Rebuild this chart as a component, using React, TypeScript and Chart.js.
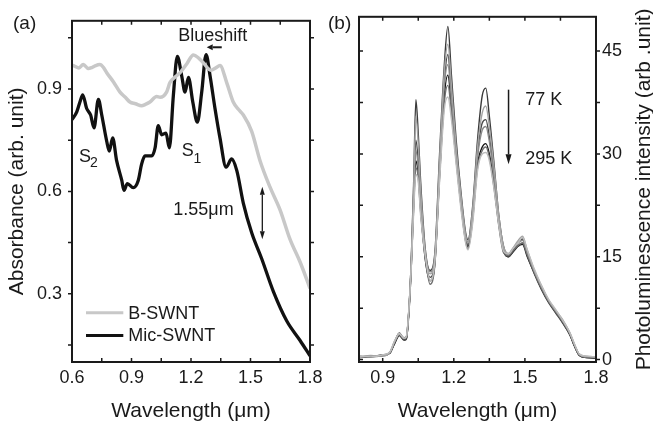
import React, { useEffect, useRef } from "react";
import { Chart, registerables } from "chart.js";
Chart.register(...registerables);

const FONT = "'Liberation Sans', Arial, Helvetica, sans-serif";
const INK = "#1a1a1a";

// ---------- Panel (a): absorbance ----------
const A_X_TICKS = [0.6, 0.9, 1.2, 1.5, 1.8];
const A_X_MINOR = [0.75, 1.05, 1.35, 1.65];
const A_Y_TICKS = [0.3, 0.6, 0.9];
const A_Y_MINOR = [0.15, 0.45, 0.75, 1.05];

const B_SWNT_WL = [0.60, 0.61, 0.635, 0.657, 0.682, 0.70, 0.716, 0.741, 0.76, 0.775, 0.81, 0.842, 0.87, 0.892, 0.92, 0.951, 0.97, 0.993, 1.027, 1.044, 1.077, 1.094, 1.12, 1.145, 1.18, 1.212, 1.24, 1.262, 1.30, 1.325, 1.346, 1.38, 1.413, 1.44, 1.464, 1.506, 1.548, 1.598, 1.649, 1.699, 1.75, 1.80];
const B_SWNT_ABS = [0.97, 0.968, 0.962, 0.972, 0.96, 0.963, 0.968, 0.972, 0.962, 0.948, 0.92, 0.891, 0.875, 0.862, 0.857, 0.851, 0.855, 0.862, 0.878, 0.876, 0.891, 0.919, 0.935, 0.948, 0.975, 1.0, 0.99, 0.977, 0.955, 0.962, 0.969, 0.919, 0.862, 0.84, 0.824, 0.776, 0.69, 0.613, 0.546, 0.46, 0.393, 0.316];

const MIC_SWNT_WL = [0.60, 0.624, 0.64, 0.654, 0.674, 0.694, 0.711, 0.733, 0.75, 0.775, 0.788, 0.805, 0.825, 0.851, 0.862, 0.879, 0.909, 0.934, 0.951, 0.968, 1.002, 1.019, 1.035, 1.052, 1.074, 1.091, 1.111, 1.131, 1.153, 1.17, 1.187, 1.209, 1.232, 1.254, 1.276, 1.296, 1.321, 1.346, 1.377, 1.405, 1.431, 1.464, 1.506, 1.557, 1.615, 1.683, 1.75, 1.80];
const MIC_SWNT_ABS = [0.81, 0.833, 0.862, 0.883, 0.843, 0.824, 0.786, 0.87, 0.824, 0.747, 0.718, 0.757, 0.69, 0.632, 0.603, 0.623, 0.611, 0.632, 0.68, 0.704, 0.704, 0.728, 0.793, 0.766, 0.771, 0.728, 0.881, 0.996, 0.939, 0.891, 0.934, 0.862, 0.803, 0.891, 1.001, 0.939, 0.843, 0.757, 0.671, 0.695, 0.661, 0.565, 0.479, 0.402, 0.307, 0.22, 0.163, 0.118];

// ---------- Panel (b): photoluminescence, 77 K ... 295 K ----------
const B_X_TICKS = [0.9, 1.2, 1.5, 1.8];
const B_X_MINOR = [1.05, 1.35, 1.65];
const B_Y_TICKS = [0, 15, 30, 45];
const B_Y_MINOR = [7.5, 22.5, 37.5];

const PL_WL = [0.80, 0.85, 0.90, 0.93, 0.95, 0.97, 0.99, 1.00, 1.01, 1.02, 1.03, 1.04, 1.05, 1.06, 1.08, 1.10, 1.12, 1.14, 1.16, 1.175, 1.19, 1.21, 1.23, 1.25, 1.26, 1.28, 1.30, 1.32, 1.335, 1.35, 1.37, 1.39, 1.41, 1.43, 1.45, 1.47, 1.49, 1.51, 1.54, 1.57, 1.60, 1.63, 1.66, 1.69, 1.71, 1.73, 1.76, 1.80];
const PL_1 = [0.4, 0.5, 0.6, 1.0, 2.5, 3.9, 3.0, 3.2, 7, 14, 25, 37.9, 33, 26, 16, 13, 15.5, 30, 43, 48.6, 41.5, 32, 24.5, 18.5, 17.5, 22.5, 32, 38.5, 39.6, 35.5, 28.5, 21, 16.5, 15.3, 16, 17, 17.6, 15.5, 12.8, 10.5, 8.5, 7, 5.5, 3.7, 2, 0.7, 0.4, 0.3];
const PL_2 = [0.3, 0.6, 0.5, 1.1, 2.7, 3.7, 3.1, 3.3, 7, 14, 24.5, 35.5, 31.5, 25, 15.5, 12.5, 15, 29, 42, 46, 40, 31, 24, 18, 17, 22, 31, 36, 37, 34, 28, 21, 16.5, 15.5, 16.3, 17.3, 18, 16, 13, 10.8, 8.7, 7.2, 5.8, 3.9, 2.2, 0.8, 0.5, 0.4];
const PL_3 = [0.5, 0.4, 0.7, 0.9, 2.4, 3.6, 2.8, 3.0, 6.8, 13.5, 23.5, 32, 29, 23.5, 15, 12, 14.5, 28, 40.5, 44.5, 38.5, 30.5, 23.5, 17.8, 16.8, 21.5, 30, 34.5, 35, 32.5, 27, 20.5, 16, 15, 15.8, 16.6, 17, 15.2, 12.5, 10.2, 8.3, 6.8, 5.3, 3.6, 1.9, 0.6, 0.3, 0.3];
const PL_4 = [0.4, 0.5, 0.6, 1.0, 2.6, 3.8, 3.2, 3.4, 7.2, 13.8, 23, 30.5, 28, 23, 15.5, 12.8, 15, 28.5, 40, 43, 38, 30, 23.5, 18.2, 17.2, 21.8, 29.5, 33.5, 34, 31.8, 26.5, 20.5, 16.2, 15.4, 16.2, 17, 17.4, 15.6, 12.9, 10.6, 8.6, 7.1, 5.6, 3.8, 2.1, 0.7, 0.4, 0.3];
const PL_5 = [0.3, 0.4, 0.6, 1.0, 2.3, 3.5, 2.9, 3.1, 6.5, 13, 22, 29, 27, 22, 14.5, 11.5, 14, 27, 38.5, 41.5, 37, 29.5, 23, 17.5, 16.5, 21, 28.5, 31, 31.5, 30, 25.5, 19.8, 15.8, 15, 15.7, 16.5, 16.8, 15, 12.6, 10.3, 8.4, 6.9, 5.4, 3.6, 1.9, 0.6, 0.3, 0.2];
const PL_6 = [0.4, 0.5, 0.6, 1.0, 2.5, 3.7, 3.0, 3.3, 6.9, 13.2, 21.5, 28, 26.5, 21.5, 14.8, 11, 13.8, 26.5, 37.5, 40, 36, 29, 22.5, 17.2, 16.2, 20.5, 28, 30.5, 31, 29.5, 25, 19.5, 15.6, 15.2, 15.9, 16.6, 17, 15.3, 12.7, 10.4, 8.5, 7, 5.5, 3.7, 2, 0.7, 0.4, 0.3];
const PL_7 = [0.5, 0.4, 0.7, 1.1, 2.7, 3.8, 3.1, 3.4, 7.1, 13, 21, 27, 26, 21, 15, 11.5, 14.2, 26, 36.5, 38.3, 35, 28.5, 22, 17, 16, 20, 27.5, 30, 30.2, 29, 24.8, 19.5, 15.8, 15.4, 16.2, 17, 17.8, 16, 13.2, 10.8, 8.8, 7.3, 5.7, 3.9, 2.2, 0.8, 0.5, 0.4];

const PL_SERIES = [
  { data: PL_7, color: "#bdbdbd" },
  { data: PL_2, color: "#a3a3a3" },
  { data: PL_4, color: "#8a8a8a" },
  { data: PL_6, color: "#6e6e6e" },
  { data: PL_3, color: "#4a4a4a" },
  { data: PL_5, color: "#161616" },
  { data: PL_1, color: "#3a3a3a" },
];

const pts = (xs: number[], ys: number[]) => xs.map((x, i) => ({ x, y: ys[i] }));

function drawArrow(ctx: CanvasRenderingContext2D, x1: number, y1: number, x2: number, y2: number, head: number, half: number, lw: number) {
  const ang = Math.atan2(y2 - y1, x2 - x1);
  const bx = x2 - head * Math.cos(ang);
  const by = y2 - head * Math.sin(ang);
  ctx.lineWidth = lw;
  ctx.beginPath();
  ctx.moveTo(x1, y1);
  ctx.lineTo(bx, by);
  ctx.stroke();
  ctx.beginPath();
  ctx.moveTo(x2, y2);
  ctx.lineTo(bx + half * Math.sin(ang), by - half * Math.cos(ang));
  ctx.lineTo(bx - half * Math.sin(ang), by + half * Math.cos(ang));
  ctx.closePath();
  ctx.fill();
}

function drawFrame(chart: any, xMaj: number[], xMin: number[], yMaj: number[], yMin: number[], leftOut: boolean) {
  const { ctx, chartArea: ca, scales } = chart;
  const xs = scales.x;
  const ys = scales.y;
  ctx.save();
  ctx.strokeStyle = INK;
  ctx.lineWidth = 1.5;
  const L = 4;
  [...xMaj, ...xMin].forEach((v) => {
    const p = xs.getPixelForValue(v);
    ctx.beginPath();
    ctx.moveTo(p, ca.bottom);
    ctx.lineTo(p, ca.bottom - L);
    ctx.moveTo(p, ca.top);
    ctx.lineTo(p, ca.top + L);
    ctx.stroke();
  });
  [...yMaj, ...yMin].forEach((v) => {
    const p = ys.getPixelForValue(v);
    ctx.beginPath();
    ctx.moveTo(ca.left, p);
    ctx.lineTo(leftOut ? ca.left - L : ca.left + L, p);
    ctx.moveTo(ca.right, p);
    ctx.lineTo(ca.right + L, p);
    ctx.stroke();
  });
  ctx.lineWidth = 2;
  ctx.strokeRect(ca.left, ca.top, ca.right - ca.left, ca.bottom - ca.top);
  ctx.restore();
}

const tickFont = { family: FONT, size: 18 };
const titleFont = { family: FONT, size: 21 };

function configA(): any {
  const plugin = {
    id: "panelA",
    afterDraw(chart: any) {
      drawFrame(chart, A_X_TICKS, A_X_MINOR, A_Y_TICKS, A_Y_MINOR, true);
      const { ctx, scales } = chart;
      const X = (v: number) => scales.x.getPixelForValue(v);
      const Y = (v: number) => scales.y.getPixelForValue(v);
      ctx.save();
      ctx.fillStyle = INK;
      ctx.strokeStyle = INK;
      ctx.textAlign = "left";
      ctx.textBaseline = "alphabetic";
      ctx.font = `19px ${FONT}`;
      ctx.fillText("(a)", 13, 29);
      ctx.font = `18px ${FONT}`;
      ctx.fillText("Blueshift", X(1.136), Y(1.0417));
      drawArrow(ctx, X(1.355), Y(1.0224), X(1.279), Y(1.0224), 6, 3, 2);
      ctx.fillText("S", X(0.635), Y(0.6856));
      ctx.fillText("S", X(1.153), Y(0.7034));
      ctx.font = `14px ${FONT}`;
      ctx.fillText("2", X(0.691), Y(0.6713));
      ctx.fillText("1", X(1.2126), Y(0.6828));
      ctx.font = `18px ${FONT}`;
      ctx.fillText("1.55μm", X(1.1108), Y(0.5319));
      const ax = X(1.5596), ym = (Y(0.6135) + Y(0.46)) / 2;
      drawArrow(ctx, ax, ym, ax, Y(0.6135), 8, 2.5, 1.3);
      drawArrow(ctx, ax, ym, ax, Y(0.46), 8, 2.5, 1.3);
      // legend
      ctx.lineWidth = 3;
      ctx.strokeStyle = "#c8c8c8";
      ctx.beginPath();
      ctx.moveTo(X(0.6706), Y(0.2445));
      ctx.lineTo(X(0.8587), Y(0.2445));
      ctx.stroke();
      ctx.strokeStyle = "#111";
      ctx.beginPath();
      ctx.moveTo(X(0.6706), Y(0.1776));
      ctx.lineTo(X(0.8587), Y(0.1776));
      ctx.stroke();
      ctx.fillText("B-SWNT", X(0.8839), Y(0.2273));
      ctx.fillText("Mic-SWNT", X(0.8839), Y(0.1603));
      ctx.restore();
    },
  };
  return {
    type: "line",
    data: {
      datasets: [
        { label: "B-SWNT", data: pts(B_SWNT_WL, B_SWNT_ABS), borderColor: "#c8c8c8", borderWidth: 3.5, pointRadius: 0, cubicInterpolationMode: "monotone" },
        { label: "Mic-SWNT", data: pts(MIC_SWNT_WL, MIC_SWNT_ABS), borderColor: "#111111", borderWidth: 3.3, pointRadius: 0, cubicInterpolationMode: "monotone" },
      ],
    },
    options: {
      responsive: false,
      animation: false,
      devicePixelRatio: 1,
      layout: { padding: { left: 0, right: 20, top: 14, bottom: 0 } },
      plugins: { legend: { display: false }, tooltip: { enabled: false } },
      scales: {
        x: {
          type: "linear", min: 0.6, max: 1.8, position: "bottom",
          grid: { display: false, drawTicks: false }, border: { display: false },
          afterBuildTicks: (s: any) => { s.ticks = A_X_TICKS.map((v) => ({ value: v })); },
          afterFit: (s: any) => { s.height = 68; },
          ticks: { font: tickFont, color: INK, padding: 5, maxRotation: 0, autoSkip: false, callback: (v: any) => Number(v).toFixed(1) },
          title: { display: true, text: "Wavelength (μm)", font: titleFont, color: INK, padding: { top: 0, bottom: 6 } },
        },
        y: {
          type: "linear", min: 0.1, max: 1.1, position: "left",
          grid: { display: false, drawTicks: false }, border: { display: false },
          afterBuildTicks: (s: any) => { s.ticks = A_Y_TICKS.map((v) => ({ value: v })); },
          afterFit: (s: any) => { s.width = 72; },
          ticks: { font: tickFont, color: INK, padding: 10, autoSkip: false, callback: (v: any) => Number(v).toFixed(1) },
          title: { display: true, text: "Absorbance (arb. unit)", font: titleFont, color: INK, padding: { top: 5, bottom: 0 } },
        },
      },
    },
    plugins: [plugin],
  };
}

function configB(): any {
  const plugin = {
    id: "panelB",
    afterDraw(chart: any) {
      drawFrame(chart, B_X_TICKS, B_X_MINOR, B_Y_TICKS, B_Y_MINOR, false);
      const { ctx, scales } = chart;
      const X = (v: number) => scales.x.getPixelForValue(v);
      const Y = (v: number) => scales.y.getPixelForValue(v);
      ctx.save();
      ctx.fillStyle = INK;
      ctx.strokeStyle = INK;
      ctx.textAlign = "left";
      ctx.textBaseline = "alphabetic";
      ctx.font = `19px ${FONT}`;
      ctx.fillText("(b)", 8, 29);
      ctx.font = `18px ${FONT}`;
      ctx.fillText("77 K", X(1.5014), Y(37.19));
      ctx.fillText("295 K", X(1.5014), Y(28.48));
      drawArrow(ctx, X(1.431), Y(39.37), X(1.431), Y(28.48), 10, 3, 1.5);
      // right axis title, reading bottom to top
      const ca = chart.chartArea;
      ctx.translate(330, (ca.top + ca.bottom) / 2);
      ctx.rotate(-Math.PI / 2);
      ctx.textAlign = "center";
      ctx.font = `21px ${FONT}`;
      ctx.fillText("Photoluminescence intensity (arb .unit)", 0, 0);
      ctx.restore();
    },
  };
  return {
    type: "line",
    data: {
      datasets: PL_SERIES.map((s, i) => ({
        label: `T${i}`,
        data: pts(PL_WL, s.data),
        borderColor: s.color,
        borderWidth: 1.4,
        pointRadius: 0,
        cubicInterpolationMode: "monotone",
      })),
    },
    options: {
      responsive: false,
      animation: false,
      devicePixelRatio: 1,
      layout: { padding: { left: 39, right: 0, top: 15, bottom: 0 } },
      plugins: { legend: { display: false }, tooltip: { enabled: false } },
      scales: {
        x: {
          type: "linear", min: 0.8, max: 1.8, position: "bottom",
          grid: { display: false, drawTicks: false }, border: { display: false },
          afterBuildTicks: (s: any) => { s.ticks = B_X_TICKS.map((v) => ({ value: v })); },
          afterFit: (s: any) => { s.height = 68; },
          ticks: { font: tickFont, color: INK, padding: 5, maxRotation: 0, autoSkip: false, callback: (v: any) => Number(v).toFixed(1) },
          title: { display: true, text: "Wavelength (μm)", font: titleFont, color: INK, padding: { top: 0, bottom: 6 } },
        },
        y: {
          type: "linear", min: -0.35, max: 50, position: "right",
          grid: { display: false, drawTicks: false }, border: { display: false },
          afterBuildTicks: (s: any) => { s.ticks = B_Y_TICKS.map((v) => ({ value: v })); },
          afterFit: (s: any) => { s.width = 57; },
          ticks: { font: tickFont, color: INK, padding: 6, autoSkip: false, callback: (v: any) => String(Math.round(Number(v))) },
        },
      },
    },
    plugins: [plugin],
  };
}

export default function App() {
  const refA = useRef<HTMLCanvasElement>(null);
  const refB = useRef<HTMLCanvasElement>(null);
  useEffect(() => {
    const a = new Chart(refA.current as HTMLCanvasElement, configA());
    const b = new Chart(refB.current as HTMLCanvasElement, configB());
    return () => {
      a.destroy();
      b.destroy();
    };
  }, []);
  return (
    <div style={{ position: "fixed", left: 0, top: 0, width: 653, height: 430, background: "#fff" }}>
      <canvas ref={refA} width={330} height={430} style={{ position: "absolute", left: 0, top: 0, width: 330, height: 430 }} />
      <canvas ref={refB} width={333} height={430} style={{ position: "absolute", left: 320, top: 0, width: 333, height: 430 }} />
    </div>
  );
}
